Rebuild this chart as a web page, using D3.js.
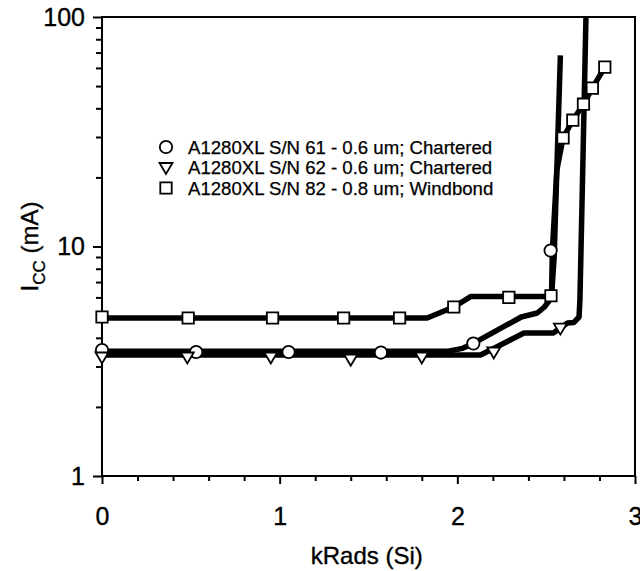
<!DOCTYPE html>
<html>
<head>
<meta charset="utf-8">
<script src="https://cdn.jsdelivr.net/npm/d3@7"></script>
<style>
  body { margin: 0; background: #fff; }
  svg text { font-family: "Liberation Sans", Arial, Helvetica, sans-serif; fill: #000; stroke: #000; stroke-width: 0.35px; }
</style>
</head>
<body>
<div id="chart"></div>
<script>
// Legend labels, one per series
const seriesNames = [
    "A1280XL S/N 61 - 0.6 um; Chartered",
    "A1280XL S/N 62 - 0.6 um; Chartered",
    "A1280XL S/N 82 - 0.8 um; Windbond"
];
const seriesSymbols = ["circle", "triangle", "square"];

// Traced curves [kRads, Icc mA]
const sn61Line = [[0, 3.5], [1.95, 3.5], [2.03, 3.6], [2.09, 3.78], [2.36, 4.93], [2.45, 5.13],
    [2.49, 5.45], [2.53, 5.97], [2.535, 9.6], [2.56, 21.5], [2.58, 68]];
const sn62Line = [[0, 3.37], [2.13, 3.37], [2.19, 3.55], [2.375, 4.2], [2.54, 4.2], [2.62, 4.64],
    [2.655, 4.66], [2.685, 4.93], [2.69, 5.85], [2.707, 23.8], [2.724, 100]];
const sn82Line = [[0, 4.88], [1.83, 4.88], [1.98, 5.45], [2.075, 6.05], [2.53, 6.05], [2.545, 9],
    [2.56, 21.5], [2.595, 29.7], [2.65, 35.5], [2.71, 41.7], [2.76, 49], [2.83, 60.5]];

// Measured points (markers)
const sn61Marks = [[0, 3.54], [0.53, 3.47], [1.05, 3.47], [1.57, 3.45], [2.09, 3.78], [2.525, 9.6]];
const sn62Marks = [[0, 3.3], [0.48, 3.3], [0.95, 3.3], [1.4, 3.23], [1.8, 3.3], [2.205, 3.47], [2.58, 4.41]];
const sn82Marks = [[0, 4.93], [0.485, 4.88], [0.96, 4.88], [1.36, 4.88], [1.675, 4.88], [1.98, 5.45],
    [2.29, 6.0], [2.527, 6.1], [2.595, 29.7], [2.65, 35.5], [2.71, 41.7], [2.76, 49], [2.83, 60.5]];

const xDomain = [0, 3];
const yDomain = [1, 100];
const xTitle = "kRads (Si)";

const config = {
    width: 640, height: 571,
    margin: {top: 17, right: 5, bottom: 95, left: 102}
};

const series = [
    {line: sn61Line, marks: sn61Marks, symbol: seriesSymbols[0]},
    {line: sn62Line, marks: sn62Marks, symbol: seriesSymbols[1]},
    {line: sn82Line, marks: sn82Marks, symbol: seriesSymbols[2]}
];

const w = config.width - config.margin.left - config.margin.right;
const h = config.height - config.margin.top - config.margin.bottom;

const svg = d3.select('#chart').append('svg')
    .attr('width', config.width)
    .attr('height', config.height);

const g = svg.append('g')
    .attr('transform', `translate(${config.margin.left},${config.margin.top})`);

const x = d3.scaleLinear().domain(xDomain).range([0, w]);
const y = d3.scaleLog().domain(yDomain).range([h, 0]);

// clip for the curves
g.append('defs').append('clipPath').attr('id', 'plot-clip')
    .append('rect').attr('width', w).attr('height', h);

// Axes
const isMajorY = d => Math.abs(Math.log10(d) - Math.round(Math.log10(d))) < 1e-9;
const yAxis = d3.axisLeft(y)
    .tickValues(y.ticks())
    .tickFormat(d => isMajorY(d) ? d3.format('d')(d) : '')
    .tickSize(5)
    .tickPadding(14);
const yAxisG = g.append('g').call(yAxis);
yAxisG.select('.domain').remove();
yAxisG.selectAll('.tick line')
    .attr('x2', d => isMajorY(d) ? -9 : -6)
    .attr('stroke-width', 2);
yAxisG.selectAll('.tick text')
    .attr('x', -17)
    .style('font-size', '25px');

const xAxis = d3.axisBottom(x)
    .tickValues(x.ticks(15))
    .tickFormat(d => Number.isInteger(d) ? d : '')
    .tickSize(5)
    .tickPadding(26);
const xAxisG = g.append('g').attr('transform', `translate(0,${h})`).call(xAxis);
xAxisG.select('.domain').remove();
xAxisG.selectAll('.tick line')
    .attr('y2', d => Number.isInteger(d) ? 8 : 5)
    .attr('stroke-width', 2);
xAxisG.selectAll('.tick text')
    .style('font-size', '25px');

// Frame
g.append('rect')
    .attr('width', w).attr('height', h)
    .attr('fill', 'none').attr('stroke', '#000').attr('stroke-width', 2);

// Axis titles
g.append('text')
    .attr('x', x(1.49)).attr('y', h + 88)
    .attr('text-anchor', 'middle')
    .style('font-size', '24px')
    .text(xTitle);

const yTitle = svg.append('text')
    .attr('transform', `translate(38,${config.margin.top + y(10)}) rotate(-90)`)
    .attr('text-anchor', 'middle')
    .style('font-size', '24px');
yTitle.append('tspan').text('I');
yTitle.append('tspan').attr('dy', 7).style('font-size', '17px').text('CC');
yTitle.append('tspan').attr('dy', -7).text(' (mA)');

// Curves
const line = d3.line().x(d => x(d[0])).y(d => y(d[1]));
const curves = g.append('g').attr('clip-path', 'url(#plot-clip)');
curves.selectAll('.curve')
    .data(series)
    .join('path')
    .attr('class', 'curve')
    .attr('d', d => line(d.line))
    .attr('fill', 'none')
    .attr('stroke', '#000')
    .attr('stroke-width', 5.5)
    .attr('stroke-linejoin', 'round');

// Marker shapes
const symbolPath = {
    circle: d3.symbol(d3.symbolCircle, 120)(),
    square: d3.symbol(d3.symbolSquare, 130)(),
    triangle: 'M-6.5,-4.5L6.5,-4.5L0,6.5Z'
};

series.forEach(s => {
    g.append('g').selectAll('path')
        .data(s.marks)
        .join('path')
        .attr('transform', d => `translate(${x(d[0])},${y(d[1])})`)
        .attr('d', symbolPath[s.symbol])
        .attr('fill', '#fff')
        .attr('stroke', '#000')
        .attr('stroke-width', 1.8);
});

// Legend
const legend = svg.append('g').attr('transform', 'translate(166,147)');
const legendRow = legend.selectAll('g')
    .data(seriesNames)
    .join('g')
    .attr('transform', (d, i) => `translate(0,${i * 20.5})`);
legendRow.append('path')
    .attr('d', (d, i) => symbolPath[seriesSymbols[i]])
    .attr('fill', '#fff')
    .attr('stroke', '#000')
    .attr('stroke-width', 1.8);
legendRow.append('text')
    .attr('x', 22).attr('dy', '0.35em')
    .style('font-size', '18.6px')
    .style('stroke-width', '0.25px')
    .text(d => d);
</script>
</body>
</html>
